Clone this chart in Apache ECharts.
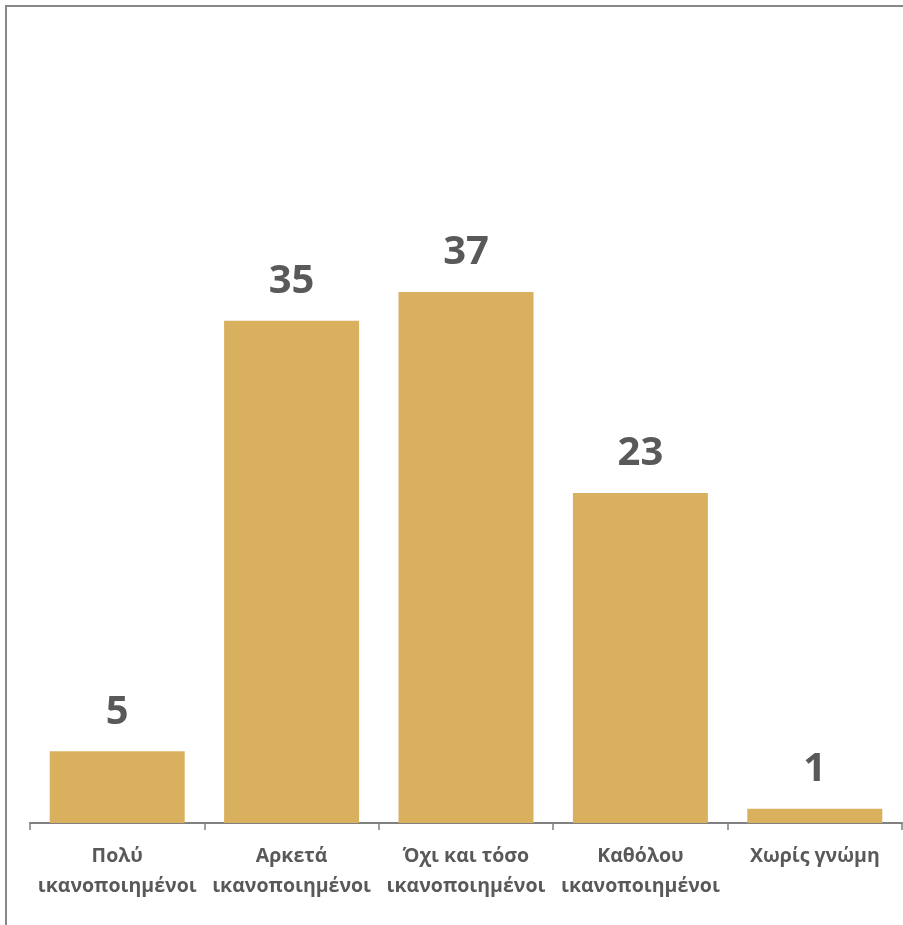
<!DOCTYPE html>
<html>
<head>
<meta charset="utf-8">
<script src="https://cdn.jsdelivr.net/npm/echarts@6/dist/echarts.min.js"></script>
<style>html,body{margin:0;padding:0;background:#fff;}#c{width:903px;height:925px;}</style>
</head>
<body>
<div id="c"></div>
<script>
const categories = ['Πολύ\nικανοποιημένοι', 'Αρκετά\nικανοποιημένοι', 'Όχι και τόσο\nικανοποιημένοι', 'Καθόλου\nικανοποιημένοι', 'Χωρίς γνώμη'];
const values = [5, 35, 37, 23, 1];

const chart = echarts.init(document.getElementById('c'));
chart.setOption({
  animation: false,
  backgroundColor: '#ffffff',
  graphic: [
    { type: 'line', shape: { x1: 5, y1: 6, x2: 903, y2: 6 }, style: { stroke: '#888888', lineWidth: 2 } },
    { type: 'line', shape: { x1: 6, y1: 5, x2: 6, y2: 925 }, style: { stroke: '#888888', lineWidth: 2 } }
  ],
  grid: { left: 30, right: 1, top: 249, bottom: 102, containLabel: false },
  xAxis: {
    type: 'category',
    data: categories,
    axisLine: { lineStyle: { color: '#808080', width: 2 } },
    axisTick: { show: true, length: 7, lineStyle: { color: '#808080', width: 1.5 } },
    axisLabel: {
      interval: 0,
      margin: 18,
      color: '#595959',
      fontFamily: 'Open Sans',
      fontWeight: 'bold',
      fontSize: 19.5,
      lineHeight: 30
    }
  },
  yAxis: {
    type: 'value',
    min: 0,
    max: 40,
    show: false,
    splitLine: { show: false }
  },
  series: [{
    type: 'bar',
    data: values,
    barWidth: 135,
    itemStyle: { color: '#D9B15E' },
    label: {
      show: true,
      position: 'top',
      distance: 19,
      color: '#595959',
      fontFamily: 'Open Sans',
      fontWeight: 'bold',
      fontSize: 40
    }
  }]
});
</script>
</body>
</html>
